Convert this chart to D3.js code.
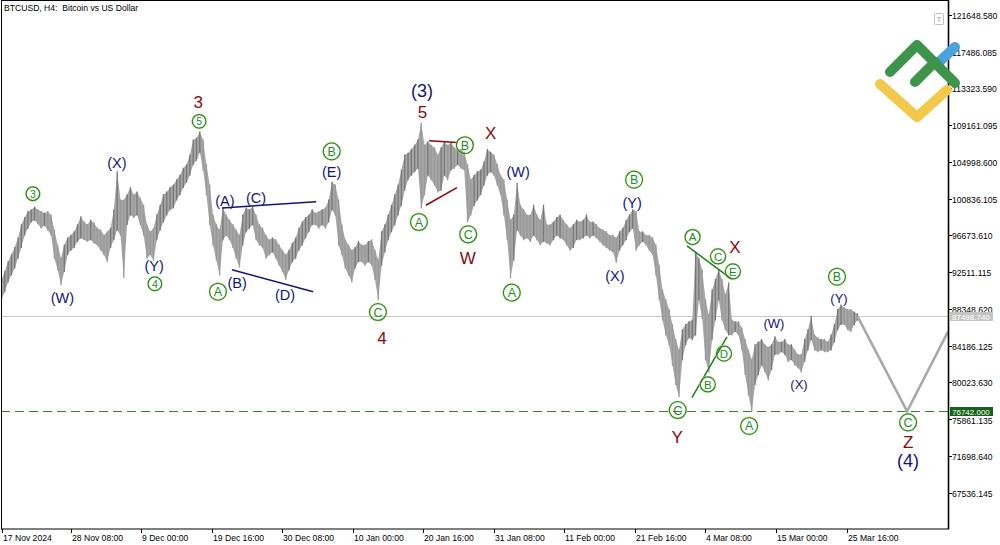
<!DOCTYPE html>
<html><head><meta charset="utf-8">
<script src="https://cdn.jsdelivr.net/npm/d3@7"></script>
<style>
html,body{margin:0;padding:0;background:#fff;}
svg{display:block;font-family:"Liberation Sans",Arial,sans-serif;}
</style></head><body>
<svg id="c" width="1000" height="545"></svg>
<script>
// ---------- DATA ----------
const symbolTitle = "BTCUSD, H4:  Bitcoin vs US Dollar";
const startDate = "2024-11-17T20:00:00Z";   // first visible bar
const slotHours = 12;                          // one range per 12 hours
// price ranges, thousand USD
const highs = [91.7,92.6,93.7,94.5,95.3,96.4,97.9,98.7,99.4,99.6,
99.9,99.6,99.4,99.2,99.4,99.0,97.3,95.6,94.1,95.6,
96.4,96.7,97.1,97.9,98.8,98.2,97.9,98.4,98.1,97.5,
97.3,96.7,97.1,97.5,99.6,103.9,100.7,100.7,101.3,102.1,
101.3,101.6,100.9,100.1,97.9,97.1,97.5,99.0,100.1,101.3,
101.6,102.1,102.4,103.0,103.5,104.3,104.7,105.8,107.5,107.7,
108.4,107.5,104.7,102.4,99.0,97.9,97.3,99.8,99.0,98.4,
97.9,97.3,96.7,99.0,99.8,99.6,99.9,99.0,97.9,97.5,
96.7,96.2,96.4,96.2,95.6,95.0,94.5,95.0,95.8,96.4,
97.5,98.2,98.7,99.0,99.6,99.2,99.4,99.6,99.8,100.7,
102.7,102.4,100.7,97.9,96.2,95.6,95.0,95.3,96.0,95.6,
95.6,96.0,96.2,95.0,93.9,97.1,97.9,99.0,100.1,101.3,
102.4,104.1,105.8,106.0,106.4,106.9,107.5,109.4,106.9,107.3,
106.9,106.6,105.8,106.6,107.3,106.9,107.2,106.6,106.4,106.4,
106.1,104.7,103.0,103.5,103.9,104.1,105.0,106.4,106.1,105.8,
104.7,103.5,103.0,100.7,98.4,99.0,102.6,100.1,99.6,99.0,
99.0,100.1,99.0,98.4,100.1,97.9,97.9,98.2,98.7,99.0,
98.4,97.9,97.5,97.9,98.4,98.2,98.4,99.0,98.2,98.2,
97.9,97.5,97.3,97.1,96.7,96.7,96.4,97.1,97.5,98.4,
99.0,99.6,99.4,97.1,97.1,96.7,96.7,96.4,95.6,93.3,
90.5,89.4,88.3,86.6,84.9,83.7,86.0,86.6,86.9,87.1,
94.8,94.1,92.8,89.4,87.7,90.5,91.7,92.8,91.7,90.0,
91.3,87.1,86.9,86.9,86.2,84.9,83.7,82.6,84.3,84.6,
84.9,84.3,84.0,84.3,85.2,84.6,84.6,84.9,84.3,84.3,
83.7,83.2,83.2,84.9,86.0,87.5,85.4,85.1,84.9,84.9,
84.6,85.4,86.6,88.3,88.8,88.5,88.3,88.3,88.0,87.8];
const lows = [89.4,90.3,91.4,92.2,93.0,94.1,95.3,96.7,97.5,98.2,
98.4,98.0,97.5,97.8,97.3,96.7,94.1,92.8,91.1,92.6,
94.5,95.0,95.3,96.0,96.4,96.2,96.0,96.2,95.8,95.6,
95.0,94.5,93.7,95.3,96.2,97.3,96.7,91.9,97.9,99.0,
98.7,99.0,97.9,96.7,94.1,94.5,93.9,96.2,97.3,98.2,
99.0,99.6,99.8,100.7,101.3,102.1,102.7,103.5,104.7,105.2,
106.1,104.1,101.3,97.9,95.6,93.9,92.2,96.2,96.7,96.2,
95.3,94.1,93.1,95.6,97.1,97.5,97.9,96.2,95.6,95.3,
94.1,94.5,94.8,94.1,93.3,92.6,91.7,92.8,93.7,94.1,
95.0,95.6,96.4,97.1,97.9,97.9,97.5,97.9,97.5,98.2,
99.6,99.0,95.6,94.5,93.0,92.2,91.4,93.0,93.7,93.7,
93.3,93.7,93.3,91.7,89.4,93.3,94.8,96.2,97.1,97.9,
99.0,100.1,101.8,103.0,103.5,103.9,104.3,99.8,101.3,103.5,
103.0,102.4,101.6,101.8,103.5,103.0,104.1,104.3,104.7,104.3,
104.1,98.2,99.0,100.1,100.7,101.3,102.4,103.5,103.9,103.5,
102.4,101.3,99.0,96.2,91.9,93.9,97.3,96.7,96.2,96.4,
96.0,96.7,96.2,95.6,96.0,95.8,95.6,96.2,96.7,96.4,
96.2,95.6,95.0,95.3,96.2,96.2,96.4,96.7,96.4,96.7,
96.4,96.0,95.6,95.3,95.0,94.8,93.6,95.0,95.6,96.2,
97.1,97.5,95.0,95.6,96.0,95.6,95.0,94.5,92.2,89.4,
87.1,85.4,84.3,82.0,79.8,78.4,82.6,84.3,85.1,84.9,
85.4,89.4,87.3,82.6,81.2,84.9,87.1,89.4,87.1,86.0,
85.4,85.4,85.8,85.4,83.7,80.9,78.6,76.742,79.8,80.9,
82.0,81.2,80.3,81.5,83.2,83.2,83.5,83.2,82.4,82.6,
82.0,81.7,81.2,82.4,83.7,84.9,83.7,83.5,83.7,83.5,
83.5,83.7,84.6,86.0,86.6,86.6,86.0,85.8,86.6,87.1];

const priceTicks = [121648.580,117486.085,113323.590,109161.095,104998.600,100836.105,
  96673.610,92511.115,88348.620,84186.125,80023.630,75861.135,71698.640,67536.145];
const timeTicks = ["2024-11-17T20:00:00Z","2024-11-28T08:00:00Z","2024-12-09T00:00:00Z",
  "2024-12-19T16:00:00Z","2024-12-30T08:00:00Z","2025-01-10T00:00:00Z","2025-01-20T16:00:00Z",
  "2025-01-31T08:00:00Z","2025-02-11T00:00:00Z","2025-02-21T16:00:00Z","2025-03-04T08:00:00Z",
  "2025-03-15T00:00:00Z","2025-03-25T16:00:00Z"];
const timeTickLabels = ["17 Nov 2024","28 Nov 08:00","9 Dec 00:00","19 Dec 16:00","30 Dec 08:00",
  "10 Jan 00:00","20 Jan 16:00","31 Jan 08:00","11 Feb 00:00","21 Feb 16:00","4 Mar 08:00",
  "15 Mar 00:00","25 Mar 16:00"];
const lastPrice = 87498.740;
const supportPrice = 76742.000;

// projection path: [slot index, thousand USD]
const projection = [[259,87.5],[274,76.742],[286.4,85.8]];

// wave labels: [text, slot index, thousand USD, kind]
const waveLabels = [
 ["3",9.5,101.4,"cn"],["(W)",18.4,89.6,"n"],["(X)",34.9,104.9,"n"],["(Y)",46.2,93.2,"n"],
 ["4",46.4,91.2,"cn"],["3",59.5,111.8,"r"],["5",59.8,109.6,"cn"],
 ["(A)",67.6,100.6,"n"],["(C)",77.0,101.0,"n"],["A",65.5,90.3,"c"],["(B)",71.3,91.3,"n"],
 ["(D)",85.8,90.0,"n"],["B",99.9,106.2,"c"],["(E)",99.9,103.9,"n"],
 ["C",113.9,88.0,"c"],["4",115.1,85.1,"r"],["(3)",127.2,113.1,"N"],["5",127.4,110.7,"r"],
 ["A",126.3,98.2,"c"],["B",140.2,106.9,"c"],["X",148.0,108.3,"r"],["C",141.2,96.8,"c"],
 ["W",141.1,94.1,"r"],["(W)",156.3,103.9,"n"],["A",154.4,90.2,"c"],
 ["B",191.4,103.0,"c"],["(Y)",190.8,100.4,"n"],["(X)",185.6,92.1,"n"],
 ["A",209.1,96.5,"cs"],["C",216.8,94.3,"cs"],["X",221.9,95.4,"r"],["E",221.3,92.6,"cs"],
 ["D",218.6,83.3,"cs"],["B",213.7,79.8,"cs"],["C",204.6,76.9,"c"],["Y",204.4,73.9,"r"],
 ["A",226.2,75.1,"c"],["(W)",233.7,86.7,"s"],["(X)",241.3,79.8,"s"],
 ["B",252.8,92.0,"c"],["(Y)",253.4,89.6,"s"],
 ["C",274.3,75.5,"c"],["Z",274.3,73.3,"r"],["(4)",274.3,71.2,"N"]
];

// trend lines: [[slot, kUSD],[slot, kUSD], colour key]
const trendLines = [
 [[66.7,99.8],[95.2,100.5],"navy"],
 [[69.7,92.8],[94.3,90.3],"navy"],
 [[129.4,107.4],[137.8,107.2],"red"],
 [[128.4,100.1],[137.8,102.1],"red"],
 [[207.4,95.5],[221.0,91.7],"green"],
 [[208.9,78.3],[219.5,85.2],"green"]
];

// ---------- DRAW ----------
const svg = d3.select("#c");
const H = 3600*1000;
const t0 = new Date(startDate);
const tEndTick = new Date(timeTicks[timeTicks.length-1]);
const slotTime = s => new Date(+t0 + s*slotHours*H);

const x = d3.scaleUtc().domain([t0, tEndTick]).range([1.5, 846.5]);
const y = d3.scaleLinear().domain([67536.145, 121648.58]).range([492.7, 15.0]);
const yk = v => y(v*1000);
const xs = s => x(slotTime(s));

const plotL = 1, plotR = 949, plotB = 529;
const cols = {navy:"#141478", red:"#8b0a0a", green:"#1f7f1f"};

svg.append("defs").append("clipPath").attr("id","plot")
  .append("rect").attr("x",plotL).attr("y",0).attr("width",plotR-plotL).attr("height",plotB);
const g = svg.append("g").attr("clip-path","url(#plot)");

// last price line
const yLast = Math.round(y(lastPrice))+0.5, ySup = Math.round(y(supportPrice))+0.5;
g.append("line").attr("x1",plotL).attr("x2",plotR).attr("y1",yLast).attr("y2",yLast)
  .attr("stroke","#c8c8c8").attr("stroke-width",1);
g.append("line").attr("x1",plotL).attr("x2",plotR).attr("y1",ySup).attr("y2",ySup)
  .attr("stroke","#3a7a3a").attr("stroke-width",1).attr("stroke-dasharray","9,5");

// price ranges: band + vertical range strokes
const bars = highs.map((h,i)=>({i,h,l:lows[i]}));
g.append("path").datum(bars)
  .attr("d", d3.area().x(d=>xs(d.i)).y0(d=>yk(d.l)).y1(d=>yk(d.h)))
  .attr("fill","#a6a6a6");
g.append("g").selectAll("line").data(bars).join("line")
  .attr("x1",d=>xs(d.i)).attr("x2",d=>xs(d.i))
  .attr("y1",d=>yk(d.h)-0.5).attr("y2",d=>yk(d.l)+0.5)
  .attr("stroke-width",1.3)
  .attr("stroke",d=>{
    if(d.i===0) return "#7d7d7d";
    const m=(d.h+d.l)/2, p=(highs[d.i-1]+lows[d.i-1])/2;
    return m>=p ? "#777" : "#999";
  });

// projection
g.append("path").datum(projection)
  .attr("d", d3.line().x(d=>xs(d[0])).y(d=>yk(d[1])))
  .attr("fill","none").attr("stroke","#a9a9a9").attr("stroke-width",2.6);

// trend lines
trendLines.forEach(tl=>{
  g.append("line").attr("x1",xs(tl[0][0])).attr("y1",yk(tl[0][1]))
    .attr("x2",xs(tl[1][0])).attr("y2",yk(tl[1][1]))
    .attr("stroke",cols[tl[2]]).attr("stroke-width",1.5);
});

// wave labels
const lg = svg.append("g");
waveLabels.forEach(([txt,s,p,k])=>{
  const cx = xs(s), cy = yk(p);
  if(k[0]==="c"){
    const r = k==="cn"?6.8:(k==="cs"?7.5:8.4);
    const fs = k==="cn"?10.5:(k==="cs"?11.5:12.5);
    lg.append("circle").attr("cx",cx).attr("cy",cy).attr("r",r+0.8)
      .attr("fill","none").attr("stroke","#e6e27a").attr("stroke-width",0.9).attr("opacity",0.8);
    lg.append("circle").attr("cx",cx).attr("cy",cy).attr("r",r)
      .attr("fill","none").attr("stroke","#1f8c1f").attr("stroke-width",1.25);
    lg.append("text").attr("x",cx).attr("y",cy+fs*0.36)
      .attr("text-anchor","middle").attr("font-size",fs)
      .attr("fill","#1f8c1f").text(txt);
  } else {
    const size = k==="N"?18:(k==="r"?17:(k==="s"?13:14.5));
    const col = k==="r"?cols.red:cols.navy;
    lg.append("text").attr("x",cx).attr("y",cy+size*0.36)
      .attr("text-anchor","middle").attr("font-size",size).attr("fill",col).text(txt);
  }
});

// frame
svg.append("rect").attr("x",plotL+0.5).attr("y",0.5).attr("width",plotR-plotL-1).attr("height",plotB-0.5)
  .attr("fill","none").attr("stroke","#000").attr("stroke-width",1);
svg.append("line").attr("x1",plotR-0.5).attr("x2",plotR-0.5).attr("y1",0).attr("y2",plotB)
  .attr("stroke","#000").attr("stroke-width",1.6);

// right axis
const ra = svg.append("g").attr("font-size",8.6).attr("fill","#000");
priceTicks.forEach(v=>{
  const yy = Math.round(y(v))+0.5;
  const nudge = (yy > y(supportPrice) && yy - y(supportPrice) < 12) ? 1.2 : 0;
  ra.append("line").attr("x1",plotR).attr("x2",plotR+3).attr("y1",yy).attr("y2",yy).attr("stroke","#000");
  ra.append("text").attr("x",plotR+3).attr("y",yy+3+nudge).text(v.toFixed(3));
});
function priceTag(v, fill){
  const yy = Math.round(y(v))+0.5;
  svg.append("rect").attr("x",plotR+1).attr("y",yy-4.5).attr("width",43).attr("height",9).attr("fill",fill);
  svg.append("text").attr("x",plotR+3).attr("y",yy+3).attr("font-size",8).attr("fill","#fff").text(v.toFixed(3));
}
priceTag(lastPrice,"#c4c4c4");
priceTag(supportPrice,"#16621a");

// bottom axis
const ba = svg.append("g").attr("font-size",8.6).attr("fill","#000");
timeTicks.forEach((ts,i)=>{
  const xx = Math.round(x(new Date(ts)))+0.5;
  ba.append("line").attr("x1",xx).attr("x2",xx).attr("y1",plotB).attr("y2",plotB+4).attr("stroke","#000");
  ba.append("text").attr("x",xx+0.5).attr("y",plotB+12).text(timeTickLabels[i]);
});

// title
svg.append("text").attr("x",4).attr("y",11).attr("font-size",8.6).attr("fill","#000")
  .attr("xml:space","preserve").style("white-space","pre").text(symbolTitle);

// small "T" box
svg.append("rect").attr("x",934.5).attr("y",13.5).attr("width",9).attr("height",11).attr("rx",1)
  .attr("fill","#fff").attr("stroke","#c0c0c0");
svg.append("text").attr("x",939).attr("y",22).attr("text-anchor","middle").attr("font-size",8).attr("fill","#a0a0a0").text("T");

// logo
const logo = svg.append("g").attr("fill","none").attr("stroke-linecap","round").attr("stroke-linejoin","round").attr("stroke-width",10);
logo.append("path").attr("d","M938,63 L955,47").attr("stroke","#4aa2de");
logo.append("path").attr("d","M880,84 L917,117 L947,90").attr("stroke","#f2c94a");
logo.append("path").attr("d","M890,72 L917,45 L955,83").attr("stroke","#3e944a");
logo.append("path").attr("d","M915,82 L935,62").attr("stroke","#3e944a");
</script>
</body></html>
